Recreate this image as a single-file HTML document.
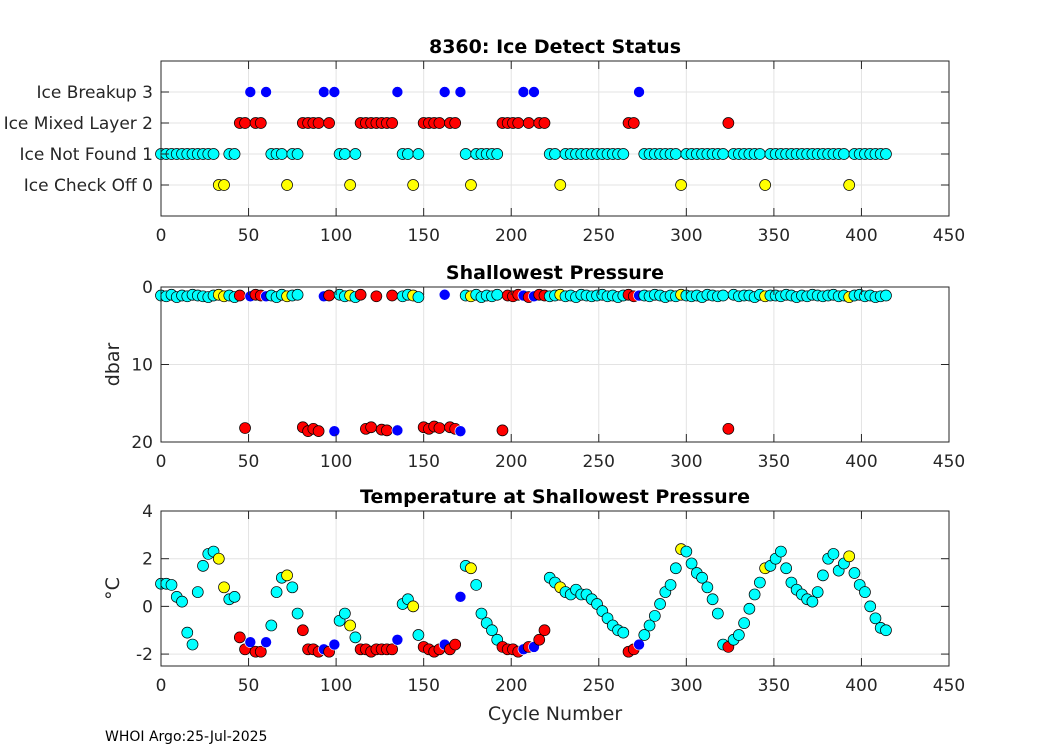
<!DOCTYPE html>
<html><head><meta charset="utf-8"><style>
html,body{margin:0;padding:0;background:#fff;overflow:hidden;}
svg{display:block;font-family:"DejaVu Sans","Liberation Sans",sans-serif;}
</style></head><body>
<svg id="chart" width="1050" height="750" viewBox="0 0 1050 750" xmlns="http://www.w3.org/2000/svg">
<rect width="1050" height="750" fill="#fff"/>
<text x="105" y="741" font-size="14" fill="#000">WHOI Argo:25-Jul-2025</text>
</svg>
<script>
const cycles=[0,3,6,9,12,15,18,21,24,27,30,33,36,39,42,45,48,51,54,57,60,63,66,69,72,75,78,81,84,87,90,93,96,99,102,105,108,111,114,117,120,123,126,129,132,135,138,141,144,147,150,153,156,159,162,165,168,171,174,177,180,183,186,189,192,195,198,201,204,207,210,213,216,219,222,225,228,231,234,237,240,243,246,249,252,255,258,261,264,267,270,273,276,279,282,285,288,291,294,297,300,303,306,309,312,315,318,321,324,327,330,333,336,339,342,345,348,351,354,357,360,363,366,369,372,375,378,381,384,387,390,393,396,399,402,405,408,411,414];
const statusCodes=[
1,1,1,1,1,1,1,1,1,1,1,
0,0,
1,1,
2,2,3,2,2,3,
1,1,1,
0,
1,1,
2,2,2,2,3,2,3,
1,1,
0,
1,
2,2,2,2,2,2,2,
3,
1,1,
0,
1,
2,2,2,2,3,2,2,3,
1,0,
1,1,1,1,1,
2,2,2,2,3,2,3,2,2,
1,1,
0,
1,1,1,1,1,1,1,1,1,1,1,1,
2,2,3,
1,1,1,1,1,1,1,
0,
1,1,1,1,1,1,1,1,
2,
1,1,1,1,1,1,
0,
1,1,1,1,1,1,1,1,1,1,1,1,1,1,1,
0,
1,1,1,1,1,1,1];
const pressure=[1.1,1.2,1.0,1.3,1.1,1.2,1.0,1.1,1.2,1.3,1.1,1.0,1.2,1.1,1.3,1.1,18.2,1.2,1.0,1.1,1.2,1.1,1.3,1.0,1.2,1.1,1.0,18.1,18.6,18.3,18.6,1.2,1.1,18.6,1.0,1.2,1.1,1.3,1.0,18.3,18.1,1.2,18.4,18.5,1.1,18.5,1.2,1.0,1.1,1.3,18.1,18.3,18.0,18.2,1.0,18.1,18.3,18.6,1.1,1.2,1.0,1.3,1.1,1.2,1.0,18.5,1.1,1.2,1.0,1.1,1.3,1.2,1.0,1.1,1.2,1.1,1.0,1.2,1.1,1.3,1.0,1.1,1.2,1.1,1.0,1.2,1.1,1.3,1.1,1.0,1.2,1.1,1.1,1.2,1.0,1.1,1.3,1.1,1.2,1.0,1.1,1.2,1.1,1.3,1.0,1.1,1.2,1.1,18.3,1.0,1.2,1.1,1.1,1.3,1.0,1.2,1.1,1.1,1.2,1.0,1.1,1.3,1.1,1.2,1.0,1.1,1.2,1.1,1.0,1.2,1.1,1.3,1.1,1.0,1.2,1.1,1.3,1.2,1.1];
const temperature=[0.95,0.95,0.9,0.4,0.2,-1.1,-1.6,0.6,1.7,2.2,2.3,2.0,0.8,0.3,0.4,-1.3,-1.8,-1.5,-1.9,-1.9,-1.5,-0.8,0.6,1.2,1.3,0.8,-0.3,-1.0,-1.8,-1.8,-1.9,-1.8,-1.9,-1.6,-0.6,-0.3,-0.8,-1.3,-1.8,-1.8,-1.9,-1.8,-1.8,-1.8,-1.8,-1.4,0.1,0.3,0.0,-1.2,-1.7,-1.8,-1.9,-1.8,-1.6,-1.8,-1.6,0.4,1.7,1.6,0.9,-0.3,-0.7,-1.0,-1.4,-1.7,-1.8,-1.8,-1.9,-1.8,-1.7,-1.7,-1.4,-1.0,1.2,1.0,0.8,0.6,0.5,0.7,0.5,0.5,0.3,0.1,-0.2,-0.5,-0.8,-1.0,-1.1,-1.9,-1.8,-1.6,-1.2,-0.8,-0.4,0.1,0.6,0.9,1.6,2.4,2.3,1.8,1.4,1.2,0.8,0.3,-0.3,-1.6,-1.7,-1.4,-1.2,-0.7,-0.1,0.5,1.0,1.6,1.7,2.0,2.3,1.6,1.0,0.7,0.5,0.3,0.2,0.6,1.3,2.0,2.2,1.5,1.8,2.1,1.4,0.9,0.6,0.0,-0.5,-0.9,-1.0];
const xTicks=[0,50,100,150,200,250,300,350,400,450];
const statusTicks=[0,1,2,3];
const statusLabels=["Ice Check Off 0","Ice Not Found 1","Ice Mixed Layer 2","Ice Breakup 3"];
const pressureTicks=[0,10,20];
const tempTicks=[-2,0,2,4];
const colors={0:"#ffff00",1:"#00ffff",2:"#ff0000",3:"#0000ff"};
const NS="http://www.w3.org/2000/svg";
const svg=document.getElementById('chart');
const X0=161,X1=949;
const xs=v=>X0+(v/450)*(X1-X0);
function el(tag,attrs,parent){const e=document.createElementNS(NS,tag);for(const k in attrs)e.setAttribute(k,attrs[k]);(parent||svg).appendChild(e);return e;}
function panel(name,top,bot,ymin,ymax,rev,yticks,ylabels,title,ytitle,yvals){
  const g=el('g',{});
  
  
  const ys=v=>rev? top+(v-ymin)/(ymax-ymin)*(bot-top) : bot-(v-ymin)/(ymax-ymin)*(bot-top);
  el('rect',{x:X0,y:top,width:X1-X0,height:bot-top,fill:'#fff'},g);
  xTicks.forEach(t=>{const l=el('line',{x1:xs(t),x2:xs(t),y1:top,y2:bot,stroke:'#e3e3e3','stroke-width':1},g);});
  yticks.forEach(t=>{const l=el('line',{x1:X0,x2:X1,y1:ys(t),y2:ys(t),stroke:'#e3e3e3','stroke-width':1},g);});
  const pts=el('g',{},g);
  
  
  const n=Math.min(cycles.length,yvals.length,statusCodes.length);
  for(let i=0;i<n;i++){
    const s=statusCodes[i];
    const cx=xs(cycles[i]),cy=ys(yvals[i]);
    if(!isFinite(cx)||!isFinite(cy)||cy<top-8||cy>bot+8)continue;
    const c=el('circle',{cx:cx,cy:cy,r:5.5,fill:colors[s],stroke:s===3?'#fff':'#000','stroke-width':s===3?0.6:0.7},pts);
    
    
  }
  el('rect',{x:X0,y:top,width:X1-X0,height:bot-top,fill:'none',stroke:'#262626','stroke-width':1},g);
  xTicks.forEach(t=>{
    el('line',{x1:xs(t),x2:xs(t),y1:bot,y2:bot-8,stroke:'#262626'},g);
    el('line',{x1:xs(t),x2:xs(t),y1:top,y2:top+8,stroke:'#262626'},g);
    const tx=el('text',{x:xs(t),y:bot+25,'font-size':17,'text-anchor':'middle',fill:'#262626'},g);tx.textContent=t;
    
  });
  yticks.forEach((t,i)=>{
    el('line',{x1:X0,x2:X0+8,y1:ys(t),y2:ys(t),stroke:'#262626'},g);
    el('line',{x1:X1,x2:X1-8,y1:ys(t),y2:ys(t),stroke:'#262626'},g);
    const tx=el('text',{x:X0-8,y:ys(t)+6,'font-size':17,'text-anchor':'end',fill:'#262626'},g);tx.textContent=ylabels[i];
    
  });
  const tt=el('text',{x:(X0+X1)/2,y:top-8,'font-size':19,'font-weight':'bold','text-anchor':'middle',fill:'#000'},g);tt.textContent=title;
  
  if(ytitle){const yt=el('text',{x:0,y:0,'font-size':19,'text-anchor':'middle',fill:'#262626',transform:`translate(${X0-42},${(top+bot)/2}) rotate(-90)`},g);yt.textContent=ytitle;
  }
}
panel('status',61,216,-1,4,false,statusTicks,statusLabels,'8360: Ice Detect Status',null,statusCodes);
panel('pressure',287,442,0,20,true,pressureTicks,pressureTicks.map(String),'Shallowest Pressure','dbar',pressure);
panel('temperature',511,666,-2.5,4,false,tempTicks,tempTicks.map(String),'Temperature at Shallowest Pressure','°C',temperature);
const xl=el('text',{x:555,y:720,'font-size':19,'text-anchor':'middle',fill:'#262626'});xl.textContent='Cycle Number';


</script>
</body></html>
